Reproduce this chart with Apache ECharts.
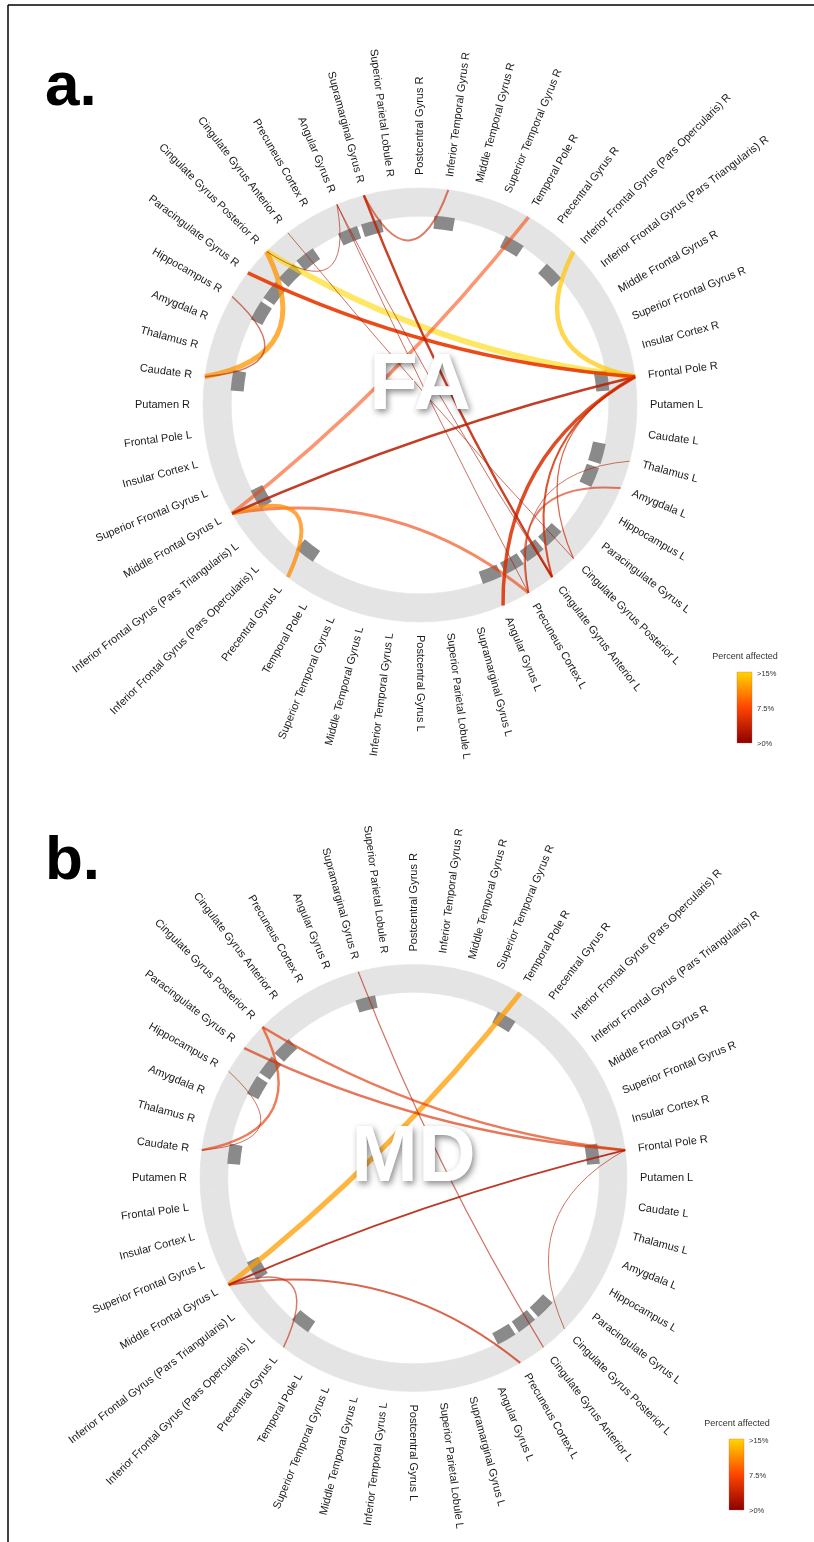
<!DOCTYPE html>
<html>
<head>
<meta charset="utf-8">
<title>FA / MD connectome</title>
<script src="https://cdn.jsdelivr.net/npm/echarts@6/dist/echarts.min.js"></script>
<style>
  html, body { margin: 0; padding: 0; background: #fff; }
  #chart { width: 814px; height: 1542px; }
</style>
</head>
<body>
<div id="chart"></div>
<script>
// regions of one hemisphere, counter-clockwise starting next to the horizontal on the right
const regions = [
  "Frontal Pole", "Insular Cortex", "Superior Frontal Gyrus", "Middle Frontal Gyrus",
  "Inferior Frontal Gyrus (Pars Triangularis)", "Inferior Frontal Gyrus (Pars Opercularis)",
  "Precentral Gyrus", "Temporal Pole", "Superior Temporal Gyrus", "Middle Temporal Gyrus",
  "Inferior Temporal Gyrus", "Postcentral Gyrus", "Superior Parietal Lobule",
  "Supramarginal Gyrus", "Angular Gyrus", "Precuneus Cortex", "Cingulate Gyrus Anterior",
  "Cingulate Gyrus Posterior", "Paracingulate Gyrus", "Hippocampus", "Amygdala",
  "Thalamus", "Caudate", "Putamen"
];
const nodeNames = regions.map(r => r + " R").concat(regions.map(r => r + " L"));

// [source, target, percent affected]
const faLinks = [
  ["Cingulate Gyrus Posterior R", "Frontal Pole R", 15],
  ["Cingulate Gyrus Posterior R", "Caudate R", 11.5],
  ["Inferior Frontal Gyrus (Pars Opercularis) R", "Frontal Pole R", 14],
  ["Temporal Pole R", "Middle Frontal Gyrus L", 7],
  ["Middle Frontal Gyrus L", "Precuneus Cortex L", 6.5],
  ["Middle Frontal Gyrus L", "Precentral Gyrus L", 11],
  ["Middle Frontal Gyrus L", "Frontal Pole R", 3],
  ["Paracingulate Gyrus R", "Frontal Pole R", 6],
  ["Frontal Pole R", "Angular Gyrus L", 5],
  ["Frontal Pole R", "Cingulate Gyrus Anterior L", 4.5],
  ["Frontal Pole R", "Cingulate Gyrus Posterior L", 4],
  ["Supramarginal Gyrus R", "Cingulate Gyrus Anterior L", 3.5],
  ["Supramarginal Gyrus R", "Inferior Temporal Gyrus R", 4],
  ["Angular Gyrus R", "Precuneus Cortex L", 2],
  ["Angular Gyrus R", "Cingulate Gyrus Anterior L", 2],
  ["Angular Gyrus R", "Cingulate Gyrus Posterior R", 2],
  ["Cingulate Gyrus Anterior R", "Cingulate Gyrus Posterior L", 2],
  ["Hippocampus R", "Caudate R", 3],
  ["Thalamus L", "Precuneus Cortex L", 3],
  ["Amygdala L", "Precuneus Cortex L", 4.5]
];
// [line width, opacity] for each FA link
const faLinkStyle = [
  [6, 0.6], [5, 0.75], [4.5, 0.7], [3.5, 0.55], [3, 0.6], [4, 0.75], [2.5, 0.85],
  [3.5, 0.9], [3.5, 0.85], [2, 0.8], [1.2, 0.7], [2.5, 0.85], [2, 0.6],
  [1, 0.6], [1, 0.6], [1, 0.6], [1, 0.6], [1.5, 0.6], [1, 0.6], [2, 0.6]
];

const mdLinks = [
  ["Temporal Pole R", "Middle Frontal Gyrus L", 12],
  ["Cingulate Gyrus Posterior R", "Frontal Pole R", 5.5],
  ["Paracingulate Gyrus R", "Frontal Pole R", 5],
  ["Cingulate Gyrus Posterior R", "Caudate R", 6],
  ["Hippocampus R", "Caudate R", 2.5],
  ["Supramarginal Gyrus R", "Cingulate Gyrus Anterior L", 2.5],
  ["Middle Frontal Gyrus L", "Frontal Pole R", 2.5],
  ["Middle Frontal Gyrus L", "Precentral Gyrus L", 3.5],
  ["Middle Frontal Gyrus L", "Precuneus Cortex L", 4],
  ["Frontal Pole R", "Cingulate Gyrus Posterior L", 2.5]
];
const mdLinkStyle = [
  [5, 0.75], [2.5, 0.65], [2.5, 0.65], [2.5, 0.65], [1, 0.6],
  [1.2, 0.6], [2, 0.85], [1.5, 0.6], [2, 0.7], [1, 0.6]
];

const pctMax = 15;
const colorStops = ["#8b0000", "#ff4500", "#ffd700"];
const legendTicks = [">15%", "7.5%", ">0%"];

const chart = echarts.init(document.getElementById("chart"), null, { renderer: "canvas" });

const STEP = 360 / nodeNames.length; // 7.5 deg per region
const START = STEP / 2;              // first band starts half a step above horizontal
const PULL = 0.55;                   // how far the chord control point is pulled to the centre
const FONT = "Liberation Sans, Arial, sans-serif";

function nodeAngle(i) {
  return START + STEP * (i + 0.5);
}

// curveness so that the bezier control point sits at PULL * chord midpoint
function chordCurveness(s, t) {
  const a1 = nodeAngle(nodeNames.indexOf(s)) * Math.PI / 180;
  const a2 = nodeAngle(nodeNames.indexOf(t)) * Math.PI / 180;
  const p1 = [Math.cos(a1), -Math.sin(a1)];
  const p2 = [Math.cos(a2), -Math.sin(a2)];
  const m = [(p1[0] + p2[0]) / 2, (p1[1] + p2[1]) / 2];
  const v = [p2[1] - p1[1], p1[0] - p2[0]];
  return (PULL - 1) * (m[0] * v[0] + m[1] * v[1]) / (v[0] * v[0] + v[1] * v[1]);
}

const panels = [
  { cx: 420, cy: 405, r: 217, links: faLinks, styles: faLinkStyle, word: "FA", wordY: 387,
    tag: "a.", tagY: 88, legX: 737, legY: 672 },
  { cx: 413.5, cy: 1178, r: 213.5, links: mdLinks, styles: mdLinkStyle, word: "MD", wordY: 1159,
    tag: "b.", tagY: 862, legX: 729, legY: 1439 }
];

const polar = [], angleAxis = [], radiusAxis = [], series = [], graphic = [];

panels.forEach(function (p, k) {
  polar.push({ center: [p.cx, p.cy], radius: p.r });
  angleAxis.push({
    polarIndex: k, type: "category", data: nodeNames, startAngle: START, clockwise: false,
    axisLine: { show: false }, axisTick: { show: false }, axisLabel: { show: false },
    splitLine: { show: false }
  });
  radiusAxis.push({
    polarIndex: k, type: "value", min: 0, max: p.r,
    axisLine: { show: false }, axisTick: { show: false }, axisLabel: { show: false },
    splitLine: { show: false }
  });

  // grey ring, one segment per region (border in the same grey hides the seams)
  series.push({
    type: "pie", silent: true, z: 1, center: [p.cx, p.cy], radius: [p.r * 0.87, p.r],
    startAngle: START, clockwise: false, label: { show: false }, labelLine: { show: false },
    itemStyle: { color: "#e4e4e4", borderColor: "#e4e4e4", borderWidth: 0.6, borderRadius: 0 },
    animation: false, padAngle: 0,
    data: nodeNames.map(n => ({ name: n, value: 1 }))
  });

  // dark blocks on regions that carry at least one connection
  const used = new Set();
  p.links.forEach(l => { used.add(l[0]); used.add(l[1]); });
  const blockIn = p.r * 0.815, blockOut = p.r * 0.875;
  series.push({
    type: "bar", coordinateSystem: "polar", polarIndex: k, stack: "blk" + k, silent: true, z: 2,
    barCategoryGap: "17%", itemStyle: { color: "transparent" },
    data: nodeNames.map(n => used.has(n) ? blockIn : "-")
  });
  series.push({
    type: "bar", coordinateSystem: "polar", polarIndex: k, stack: "blk" + k, silent: true, z: 2,
    barCategoryGap: "17%", itemStyle: { color: "#8a8a8a" },
    data: nodeNames.map(n => used.has(n) ? blockOut - blockIn : "-")
  });

  // nodes on the outer edge of the ring, labels pointing outwards
  const nodes = nodeNames.map(function (n, i) {
    const a = nodeAngle(i);
    const rad = a * Math.PI / 180;
    let rot, align;
    if (a <= 90) { rot = a; align = "left"; }
    else if (a < 270) { rot = a - 180; align = "right"; }
    else { rot = a - 360; align = "left"; }
    const d = 13;
    return {
      name: n, value: [p.r, n],
      label: {
        show: true, position: [0.5 + d * Math.cos(rad), 0.5 - d * Math.sin(rad)],
        rotate: rot, align: align, verticalAlign: "middle"
      }
    };
  });
  const links = p.links.map(function (l, j) {
    const st = p.styles[j];
    return {
      source: l[0], target: l[1], value: l[2],
      lineStyle: {
        color: echarts.color.lerp(l[2] / pctMax, colorStops),
        width: st[0], opacity: st[1], curveness: chordCurveness(l[0], l[1])
      }
    };
  });
  series.push({
    type: "graph", coordinateSystem: "polar", polarIndex: k, z: 3, silent: true,
    symbol: "circle", symbolSize: 1, itemStyle: { color: "transparent" },
    label: { fontSize: 11, color: "#1a1a1a", fontFamily: FONT },
    data: nodes, links: links
  });

  // big white measure name in the middle
  graphic.push({
    type: "text", z: 100, x: p.cx, y: p.wordY,
    style: {
      text: p.word, font: "bold 80px " + FONT, fill: "#ffffff",
      align: "center", verticalAlign: "middle",
      textShadowColor: "rgba(0,0,0,0.45)", textShadowBlur: 6,
      textShadowOffsetX: 2, textShadowOffsetY: 3
    }
  });
  // panel tag
  graphic.push({
    type: "text", z: 100, x: 45, y: p.tagY,
    style: { text: p.tag, font: "bold 62px " + FONT, fill: "#000", align: "left", verticalAlign: "middle" }
  });
  // colour legend
  graphic.push({
    type: "text", z: 100, x: p.legX + 8, y: p.legY - 15,
    style: { text: "Percent affected", font: "9px " + FONT, fill: "#333", align: "center", verticalAlign: "middle" }
  });
  graphic.push({
    type: "rect", z: 100, shape: { x: p.legX, y: p.legY, width: 15, height: 71 },
    style: {
      fill: new echarts.graphic.LinearGradient(0, 0, 0, 1, [
        { offset: 0, color: colorStops[2] }, { offset: 0.5, color: colorStops[1] }, { offset: 1, color: colorStops[0] }
      ]),
      stroke: "rgba(200,90,90,0.5)", lineWidth: 0.6
    }
  });
  legendTicks.forEach(function (t, i) {
    graphic.push({
      type: "text", z: 100, x: p.legX + 20, y: p.legY + 2 + i * 35,
      style: { text: t, font: "7.5px " + FONT, fill: "#333", align: "left", verticalAlign: "middle" }
    });
  });
});

// frame of the figure (top and left edges)
graphic.push({ type: "line", z: 100, shape: { x1: 8, y1: 5, x2: 814, y2: 5 }, style: { stroke: "#000", lineWidth: 1.5 } });
graphic.push({ type: "line", z: 100, shape: { x1: 8, y1: 5, x2: 8, y2: 1542 }, style: { stroke: "#000", lineWidth: 1.5 } });

chart.setOption({
  animation: false,
  backgroundColor: "#ffffff",
  polar: polar,
  angleAxis: angleAxis,
  radiusAxis: radiusAxis,
  series: series,
  graphic: graphic
});
</script>
</body>
</html>
